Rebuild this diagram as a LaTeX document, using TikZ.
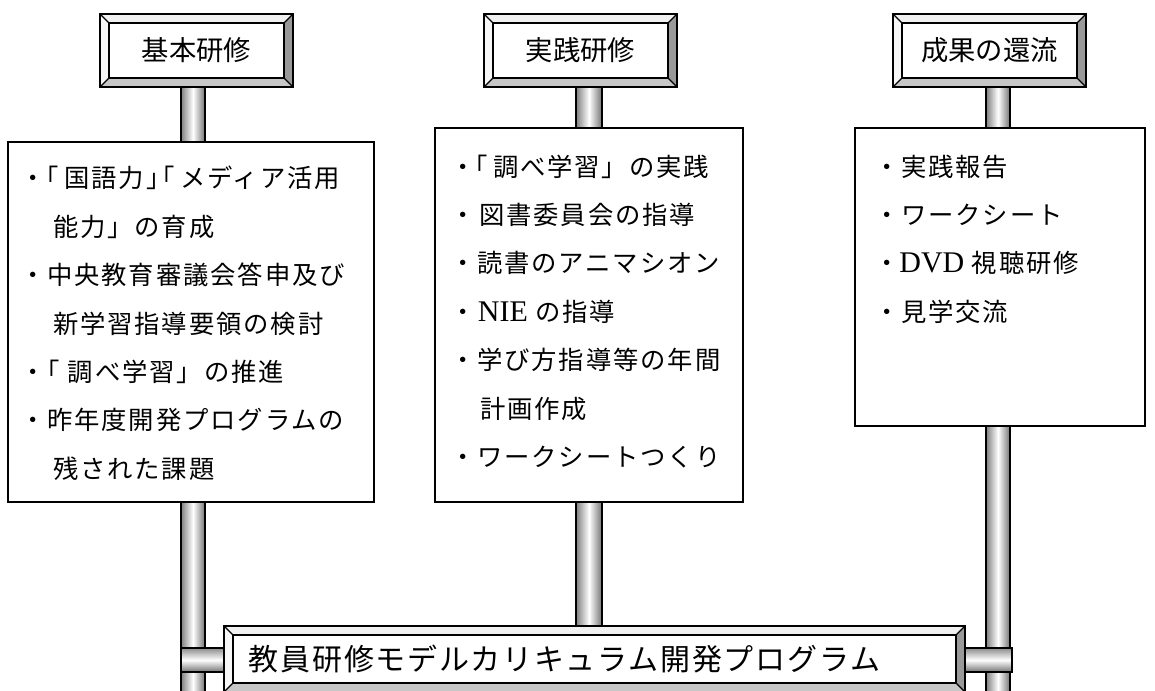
\documentclass[tikz,border=0pt]{standalone}
\usepackage{fontspec}
\setmainfont{Liberation Serif}
\newfontfamily\jp[LetterSpace=7.5]{Noto Sans CJK JP}
\newfontfamily\jphead{Noto Sans CJK JP}
\newfontfamily\jptitle[LetterSpace=6]{Noto Sans CJK JP}
\newfontfamily\latinf{Liberation Serif}
\newcommand\lat[1]{{\latinf\fontsize{22.5pt}{22.5pt}\selectfont #1}}
\usetikzlibrary{calc}
\definecolor{bvtopc}{gray}{0.94}
\definecolor{bvleftc}{gray}{0.97}
\definecolor{bvbotc}{gray}{0.78}
\definecolor{bvrightc}{gray}{0.60}
\newcommand\bevelframe[2]{%
 \fill[bvtopc] (#1.north west) -- (#1.north east) -- ($(#1.north east)+(-#2,#2)$) -- ($(#1.north west)+(#2,#2)$) -- cycle;
 \fill[bvleftc] (#1.north west) -- ($(#1.north west)+(#2,#2)$) -- ($(#1.south west)+(#2,-#2)$) -- (#1.south west) -- cycle;
 \fill[bvbotc] (#1.south west) -- ($(#1.south west)+(#2,-#2)$) -- ($(#1.south east)+(-#2,-#2)$) -- (#1.south east) -- cycle;
 \fill[bvrightc] (#1.north east) -- (#1.south east) -- ($(#1.south east)+(-#2,-#2)$) -- ($(#1.north east)+(-#2,#2)$) -- cycle;
 \draw[line width=1.3pt] ($(#1.north west)+(#2,#2)$) rectangle ($(#1.south east)+(-#2,-#2)$);
 \draw[line width=0.9pt] (#1.north west) -- ($(#1.north west)+(#2,#2)$) (#1.north east) -- ($(#1.north east)+(-#2,#2)$)
   (#1.south west) -- ($(#1.south west)+(#2,-#2)$) (#1.south east) -- ($(#1.south east)+(-#2,-#2)$);
 \draw[line width=1.8pt] (#1.north west) rectangle (#1.south east);
}
\begin{document}
\begin{tikzpicture}[x=0.75pt,y=-0.75pt,
  pole/.style={draw=black,line width=1.5pt,left color=black!50,right color=black!55,middle color=white},
  stub/.style={draw=black,line width=1.5pt,top color=black!45,bottom color=black!55,middle color=white},
  hdr/.style={rectangle,fill=white,inner sep=0pt,outer sep=0pt,minimum width=144.75pt,minimum height=54.75pt,
     font=\jphead\fontsize{20.5pt}{20.5pt}\selectfont,anchor=north west},
  listbox/.style={rectangle,draw=black,line width=1.6pt,fill=white,inner sep=0pt,outer sep=0pt,anchor=north west},
  txt/.style={anchor=base west,inner sep=0pt,outer sep=0pt,font=\jp\fontsize{19pt}{19pt}\selectfont},
  barbox/.style={rectangle,fill=white,inner sep=0pt,outer sep=0pt,anchor=north west,minimum width=555.75pt,minimum height=49.5pt}
]
\useasboundingbox (0,0) rectangle (1155,691);

% pole edge coordinates
\coordinate (p1l) at (181,0); \coordinate (p1r) at (205,0);
\coordinate (p2l) at (576,0); \coordinate (p2r) at (602,0);
\coordinate (p3l) at (986,0); \coordinate (p3r) at (1010,0);
\coordinate (bot) at (0,700);
\coordinate (sty1) at (0,648); \coordinate (sty2) at (0,672);
\coordinate (stR) at (1012,0);

% headers, boxes, bar
\node[hdr] (h1) at (100,14) {};
\node[hdr] (h2) at (484,14) {};
\node[hdr] (h3) at (893,14) {};
\node[listbox,minimum width=274.5pt,minimum height=270pt] (b1) at (8,142) {};
\node[listbox,minimum width=231pt,minimum height=280.5pt] (b2) at (435,128) {};
\node[listbox,minimum width=217.5pt,minimum height=223.5pt] (b3) at (855,128) {};
\node[barbox] (bar) at (224,626) {};

% poles
\draw[pole] (p1l |- h1.south) rectangle (p1r |- b1.north);
\draw[pole] (p1l |- b1.south) rectangle (p1r |- bot);
\draw[pole] (p2l |- h2.south) rectangle (p2r |- b2.north);
\draw[pole] (p2l |- b2.south) rectangle (p2r |- bar.north);
\draw[pole] (p3l |- h3.south) rectangle (p3r |- b3.north);
\draw[pole] (p3l |- b3.south) rectangle (p3r |- bot);
% stubs joining the bar
\draw[stub] (p1l |- sty1) rectangle (bar.west |- sty2);
\draw[stub] (bar.east |- sty1) rectangle (stR |- sty2);

% bevelled frames
\bevelframe{h1}{9}
\bevelframe{h2}{9}
\bevelframe{h3}{9}
\bevelframe{bar}{9}

% header texts
\node[hdr,anchor=center,fill=none,minimum width=0pt,minimum height=0pt] (t1) at (h1.center) {基本研修};
\node[hdr,anchor=center,fill=none,minimum width=0pt,minimum height=0pt] (t2) at (h2.center) {実践研修};
\node[hdr,anchor=center,fill=none,minimum width=0pt,minimum height=0pt] (t3) at (h3.center) {成果の還流};

% box 1
\node[txt] (a1) at (20,188) {・\kern-0.45em「\kern0.2em国語力」\kern-0.85em「\kern0.2emメディア活用};
\node[txt] (a2) at (53,236.3) {能力」の育成};
\node[txt] (a3) at (20,284.6) {・中央教育審議会答申及び};
\node[txt] (a4) at (53,333) {新学習指導要領の検討};
\node[txt] (a5) at (21,381.3) {・\kern-0.45em「\kern0.3em調べ学習」の推進};
\node[txt] (a6) at (20,429.6) {・昨年度開発プログラムの};
\node[txt] (a7) at (53,478) {残された課題};

% box 2
\node[txt] (c1) at (450,176.3) {・\kern-0.5em「\kern0.2em調べ学習」の実践};
\node[txt] (c2) at (450,224.6) {・\kern0.15em図書委員会の指導};
\node[txt] (c3) at (450,273) {・読書のアニマシオン};
\node[txt] (c4) at (450,321.3) {・\kern0.1em\lat{NIE} の指導};
\node[txt] (c5) at (450,369.6) {・学び方指導等の年間};
\node[txt] (c6) at (480,418) {計画作成};
\node[txt] (c7) at (450,466.3) {・ワークシートつくり};

% box 3
\node[txt] (d1) at (874,176.3) {・実践報告};
\node[txt] (d2) at (874,224.6) {・ワークシート};
\node[txt] (d3) at (874,273) {・\lat{DVD} 視聴研修};
\node[txt] (d4) at (874,321.3) {・見学交流};

% bottom title
\node[anchor=base west,inner sep=0pt,font=\jptitle\fontsize{22.5pt}{22.5pt}\selectfont] (title) at (248.5,670.4) {教員研修モデルカリキュラム開発プログラム};
\end{tikzpicture}
\end{document}
